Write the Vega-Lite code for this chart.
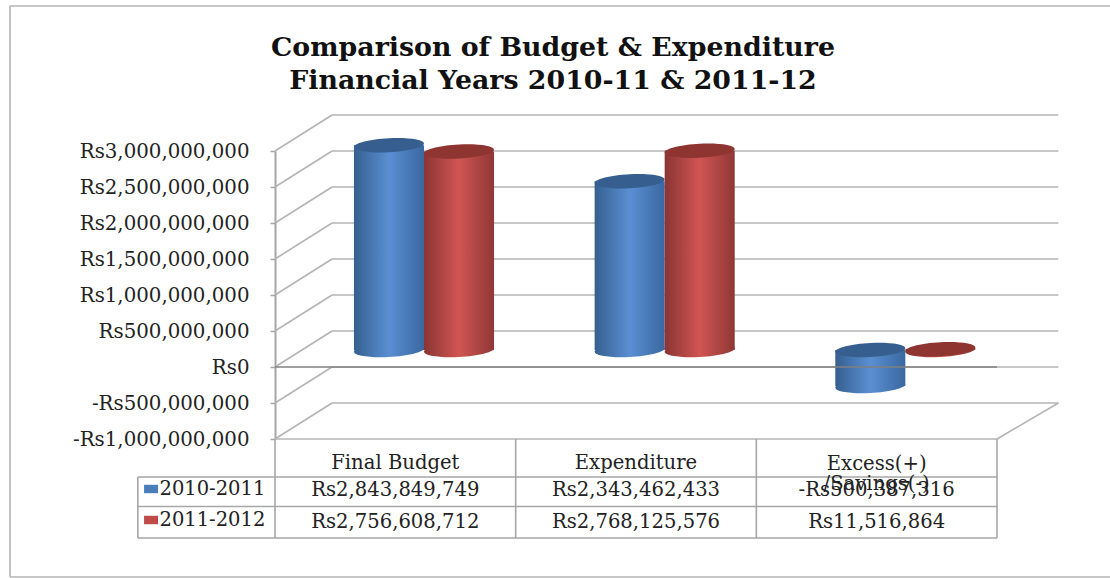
{
"$schema":"https://vega.github.io/schema/vega-lite/v6.json",
"background":"white",
"padding":{"left":9,"top":5,"right":0,"bottom":1},
"config":{"view":{"stroke":null},"axis":{"labelOverlap":false,"labelBound":false},"axisY":{"tickCount":9}},
"bounds":"flush",
"spacing":0,
"datasets":{
"bars":[
{"category":"Final Budget","series":"2010-2011","value":2843849749,"top":2843849749,"low":0},
{"category":"Final Budget","series":"2011-2012","value":2756608712,"top":2756608712,"low":0},
{"category":"Expenditure","series":"2010-2011","value":2343462433,"top":2343462433,"low":0},
{"category":"Expenditure","series":"2011-2012","value":2768125576,"top":2768125576,"low":0},
{"category":"Excess(+) /Savings(-)","series":"2010-2011","value":-500387316,"top":0,"low":-500387316},
{"category":"Excess(+) /Savings(-)","series":"2011-2012","value":11516864,"top":11516864,"low":0}
],
"walls":[
{"a":0,"b":0.079,"u":3000000000,"v":3500000000},{"a":0.079,"b":1.085,"u":3500000000,"v":3500000000},
{"a":0,"b":0.079,"u":2500000000,"v":3000000000},{"a":0.079,"b":1.085,"u":3000000000,"v":3000000000},
{"a":0,"b":0.079,"u":2000000000,"v":2500000000},{"a":0.079,"b":1.085,"u":2500000000,"v":2500000000},
{"a":0,"b":0.079,"u":1500000000,"v":2000000000},{"a":0.079,"b":1.085,"u":2000000000,"v":2000000000},
{"a":0,"b":0.079,"u":1000000000,"v":1500000000},{"a":0.079,"b":1.085,"u":1500000000,"v":1500000000},
{"a":0,"b":0.079,"u":500000000,"v":1000000000},{"a":0.079,"b":1.085,"u":1000000000,"v":1000000000},
{"a":0,"b":0.079,"u":0,"v":500000000},{"a":0.079,"b":1.085,"u":500000000,"v":500000000},
{"a":0,"b":0.079,"u":-500000000,"v":0},{"a":0.079,"b":1.085,"u":0,"v":0},
{"a":0,"b":0.079,"u":-1000000000,"v":-500000000},{"a":0.079,"b":1.085,"u":-500000000,"v":-500000000},
{"a":0,"b":1,"u":-1000000000,"v":-1000000000},{"a":1,"b":1.085,"u":-1000000000,"v":-500000000},
{"a":-0.367,"b":1.159,"u":5014000000,"v":5014000000},{"a":-0.367,"b":-0.367,"u":5014000000,"v":-2917000000},{"a":-0.367,"b":1.159,"u":-2917000000,"v":-2917000000}
],
"gridlines":[
{"a":0,"b":0,"u":0,"v":99},{"a":1,"b":1,"u":0,"v":99},{"a":2,"b":2,"u":0,"v":99},{"a":3,"b":3,"u":0,"v":99},
{"a":-0.57,"b":-0.57,"u":38,"v":99},
{"a":-0.57,"b":3,"u":38,"v":38},{"a":-0.57,"b":3,"u":67.5,"v":67.5},{"a":-0.57,"b":3,"u":99,"v":99}
],
"cells":[
{"col":0.5,"row":24,"label":"Final Budget"},
{"col":1.5,"row":24,"label":"Expenditure"},
{"col":2.5,"row":25,"label":"Excess(+)"},
{"col":2.5,"row":45,"label":"/Savings(-)"},
{"col":0.5,"row":51,"label":"Rs2,843,849,749"},
{"col":1.5,"row":51,"label":"Rs2,343,462,433"},
{"col":2.5,"row":51,"label":"-Rs500,387,316"},
{"col":0.5,"row":83,"label":"Rs2,756,608,712"},
{"col":1.5,"row":83,"label":"Rs2,768,125,576"},
{"col":2.5,"row":83,"label":"Rs11,516,864"}
],
"keys":[
{"col":-0.48,"swatch":-0.515,"row":50,"series":"2010-2011"},
{"col":-0.48,"swatch":-0.515,"row":81,"series":"2011-2012"}
]
},
"vconcat":[
{
"width":722,"height":288,
"resolve":{"scale":{"x":"independent"}},
"layer":[
{
"data":{"name":"walls"},
"mark":{"type":"rule","color":"#b4b4b4","strokeWidth":1.6},
"encoding":{
"x":{"field":"a","type":"quantitative","scale":{"domain":[0,1],"nice":false,"zero":false},"axis":null},
"x2":{"field":"b"},
"y":{"field":"u","type":"quantitative","scale":{"domain":[-1000000000,3000000000],"nice":false},
"axis":{"tickCount":9,"labelOverlap":false,"title":null,"grid":false,"domainColor":"#a6a6a6","domainWidth":2,"tickColor":"#a6a6a6","tickWidth":1.5,"tickSize":5,"labelPadding":21,"labelFont":"DejaVu Serif","labelFontSize":19.8,"labelColor":"#222222","labelExpr":"(datum.value<0?'-':'')+'Rs'+format(abs(datum.value),',')"}},
"y2":{"field":"v"}
}
},
{
"data":{"values":[{"a":0.385,"u":4430000000,"line":"Comparison of Budget & Expenditure"},{"a":0.385,"u":3970000000,"line":"Financial Years 2010-11 & 2011-12"}]},
"mark":{"type":"text","font":"DejaVu Serif","fontSize":26.8,"fontWeight":"bold","color":"#111111","align":"center","baseline":"middle"},
"encoding":{"x":{"field":"a","type":"quantitative","scale":{"domain":[0,1],"nice":false,"zero":false},"axis":null},"y":{"field":"u","type":"quantitative"},"text":{"field":"line"}}
},
{
"data":{"name":"bars"},
"transform":[{"filter":"datum.series==='2010-2011'"}],
"layer":[
{"mark":{"type":"point","filled":true,"opacity":1,"size":4900,"yOffset":-17,"shape":"M-1,0.05 A1,0.2 -3 1,0 1,-0.05 A1,0.2 -3 1,0 -1,0.05 Z","color":{"x1":0,"x2":1,"y1":0,"y2":0,"gradient":"linear","stops":[{"offset":0,"color":"#35608f"},{"offset":0.5,"color":"#5a8fd3"},{"offset":1,"color":"#3a68a0"}]}},
"encoding":{"x":{"field":"category","type":"nominal","sort":null,"scale":{"domain":["Final Budget","Expenditure","Excess(+) /Savings(-)"],"paddingInner":0.418,"paddingOuter":0.209,"align":0.785},"axis":null},"xOffset":{"field":"series","type":"nominal","scale":{"domain":["2010-2011","2011-2012"],"paddingInner":0,"paddingOuter":0}},"y":{"field":"low","type":"quantitative"}}},
{"mark":{"type":"bar","yOffset":-17,"y2Offset":-17,"color":{"x1":0,"x2":1,"y1":0,"y2":0,"gradient":"linear","stops":[{"offset":0,"color":"#35608f"},{"offset":0.5,"color":"#5a8fd3"},{"offset":1,"color":"#3a68a0"}]}},
"encoding":{"x":{"field":"category","type":"nominal","sort":null,"scale":{"domain":["Final Budget","Expenditure","Excess(+) /Savings(-)"],"paddingInner":0.418,"paddingOuter":0.209,"align":0.785},"axis":null},"xOffset":{"field":"series","type":"nominal","scale":{"domain":["2010-2011","2011-2012"],"paddingInner":0,"paddingOuter":0}},"y":{"field":"top","type":"quantitative"},"y2":{"field":"low"}}},
{"mark":{"type":"point","filled":true,"opacity":1,"size":4900,"yOffset":-17,"color":"#365f8f","shape":"M-1,0.05 A1,0.2 -3 1,0 1,-0.05 A1,0.2 -3 1,0 -1,0.05 Z"},
"encoding":{"x":{"field":"category","type":"nominal","sort":null,"scale":{"domain":["Final Budget","Expenditure","Excess(+) /Savings(-)"],"paddingInner":0.418,"paddingOuter":0.209,"align":0.785},"axis":null},"xOffset":{"field":"series","type":"nominal","scale":{"domain":["2010-2011","2011-2012"],"paddingInner":0,"paddingOuter":0}},"y":{"field":"top","type":"quantitative"}}}
]
},
{
"data":{"name":"bars"},
"transform":[{"filter":"datum.series==='2011-2012'"}],
"layer":[
{"mark":{"type":"point","filled":true,"opacity":1,"size":4900,"yOffset":-17,"shape":"M-1,0.05 A1,0.2 -3 1,0 1,-0.05 A1,0.2 -3 1,0 -1,0.05 Z","color":{"x1":0,"x2":1,"y1":0,"y2":0,"gradient":"linear","stops":[{"offset":0,"color":"#8a3533"},{"offset":0.5,"color":"#d05553"},{"offset":1,"color":"#8f3735"}]}},
"encoding":{"x":{"field":"category","type":"nominal","sort":null,"scale":{"domain":["Final Budget","Expenditure","Excess(+) /Savings(-)"],"paddingInner":0.418,"paddingOuter":0.209,"align":0.785},"axis":null},"xOffset":{"field":"series","type":"nominal","scale":{"domain":["2010-2011","2011-2012"],"paddingInner":0,"paddingOuter":0}},"y":{"field":"low","type":"quantitative"}}},
{"mark":{"type":"bar","yOffset":-17,"y2Offset":-17,"color":{"x1":0,"x2":1,"y1":0,"y2":0,"gradient":"linear","stops":[{"offset":0,"color":"#8a3533"},{"offset":0.5,"color":"#d05553"},{"offset":1,"color":"#8f3735"}]}},
"encoding":{"x":{"field":"category","type":"nominal","sort":null,"scale":{"domain":["Final Budget","Expenditure","Excess(+) /Savings(-)"],"paddingInner":0.418,"paddingOuter":0.209,"align":0.785},"axis":null},"xOffset":{"field":"series","type":"nominal","scale":{"domain":["2010-2011","2011-2012"],"paddingInner":0,"paddingOuter":0}},"y":{"field":"top","type":"quantitative"},"y2":{"field":"low"}}},
{"mark":{"type":"point","filled":true,"opacity":1,"size":4900,"yOffset":-17,"color":"#8e3532","shape":"M-1,0.05 A1,0.2 -3 1,0 1,-0.05 A1,0.2 -3 1,0 -1,0.05 Z"},
"encoding":{"x":{"field":"category","type":"nominal","sort":null,"scale":{"domain":["Final Budget","Expenditure","Excess(+) /Savings(-)"],"paddingInner":0.418,"paddingOuter":0.209,"align":0.785},"axis":null},"xOffset":{"field":"series","type":"nominal","scale":{"domain":["2010-2011","2011-2012"],"paddingInner":0,"paddingOuter":0}},"y":{"field":"top","type":"quantitative"}}}
]
},
{
"data":{"values":[{"a":0,"b":1,"u":0}]},
"mark":{"type":"rule","color":"#808080","strokeWidth":2.2,"opacity":0.75},
"encoding":{"x":{"field":"a","type":"quantitative","scale":{"domain":[0,1],"nice":false,"zero":false},"axis":null},"x2":{"field":"b"},"y":{"field":"u","type":"quantitative"}}
}
]
},
{
"width":722,"height":99,
"layer":[
{"data":{"name":"gridlines"},"mark":{"type":"rule","color":"#a6a6a6","strokeWidth":1.6},
"encoding":{"x":{"field":"a","type":"quantitative","scale":{"domain":[0,3],"nice":false,"zero":false},"axis":null},"x2":{"field":"b"},"y":{"field":"u","type":"quantitative","scale":{"domain":[0,99],"reverse":true,"nice":false},"axis":null},"y2":{"field":"v"}}},
{"data":{"name":"cells"},"mark":{"type":"text","font":"DejaVu Serif","fontSize":19.6,"color":"#222222","align":"center","baseline":"middle"},
"encoding":{"x":{"field":"col","type":"quantitative"},"y":{"field":"row","type":"quantitative"},"text":{"field":"label"}}},
{"data":{"name":"keys"},"mark":{"type":"text","font":"DejaVu Serif","fontSize":19.5,"color":"#222222","align":"left","baseline":"middle"},
"encoding":{"x":{"field":"col","type":"quantitative"},"y":{"field":"row","type":"quantitative"},"text":{"field":"series"}}},
{"data":{"name":"keys"},"mark":{"type":"point","filled":true,"opacity":1,"size":196,"shape":"M-1,-0.6 H1 V0.6 H-1 Z"},
"encoding":{"x":{"field":"swatch","type":"quantitative"},"y":{"field":"row","type":"quantitative"},"fill":{"field":"series","type":"nominal","scale":{"domain":["2010-2011","2011-2012"],"range":["#4a7ebb","#be4b48"]},"legend":null}}}
]
}
]
}
